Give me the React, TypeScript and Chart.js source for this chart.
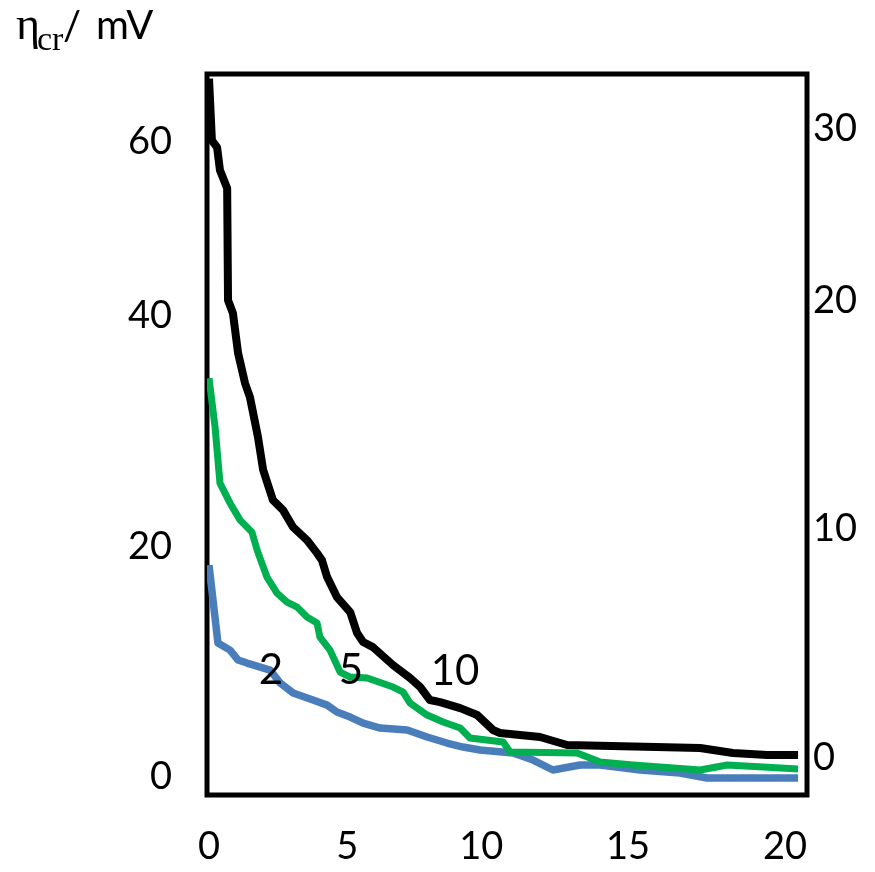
import React, { useEffect, useRef } from 'react';
import { Chart, registerables } from 'chart.js';

Chart.register(...registerables);

// Series (x in the bottom-axis units, y in left-axis units)
const blackX = [0, 0.1, 0.28, 0.38, 0.63, 0.66, 0.83, 1.01, 1.25, 1.42, 1.7, 1.88, 2.22, 2.57, 2.92, 3.4, 3.75, 3.92, 4.1, 4.44, 4.9, 5.14, 5.35, 5.69, 6.39, 6.98, 7.33, 7.67, 8.02, 8.72, 9.31, 9.86, 10.1, 11.49, 12.43, 17.05, 18.19, 19.38, 20.45];
const blackY = [60.6, 55.25, 54.64, 52.65, 51.08, 41.37, 40.24, 36.77, 34.17, 32.96, 29.49, 26.63, 24.02, 23.16, 21.68, 20.56, 19.43, 18.82, 17.35, 15.61, 14.31, 12.49, 11.71, 11.27, 9.71, 8.59, 7.81, 6.68, 6.5, 5.98, 5.38, 4.08, 3.82, 3.47, 2.78, 2.52, 2.08, 1.91, 1.91];

const greenX = [0, 0.21, 0.38, 0.73, 1.08, 1.49, 1.67, 2.01, 2.36, 2.71, 3.06, 3.4, 3.75, 3.85, 4.2, 4.55, 4.9, 5.49, 6.39, 6.74, 6.98, 7.57, 8.13, 8.72, 9.06, 10.21, 10.45, 12.78, 13.58, 14.72, 17.05, 17.99, 19.24, 20.45];
const greenY = [34.61, 30.36, 25.5, 23.76, 22.29, 21.25, 19.69, 17.35, 15.96, 15.18, 14.74, 13.88, 13.36, 12.14, 11.01, 9.11, 8.67, 8.59, 7.81, 7.37, 6.42, 5.38, 4.77, 4.25, 3.38, 3.04, 2.17, 2.08, 1.3, 1.04, 0.61, 1.04, 0.87, 0.69];

const blueX = [0, 0.31, 0.73, 1.01, 1.32, 2.12, 2.47, 2.92, 3.61, 4.1, 4.44, 4.9, 5.35, 5.94, 6.88, 7.57, 8.26, 8.82, 9.41, 10.56, 11.25, 11.94, 12.88, 13.58, 14.97, 16.35, 17.29, 20.45];
const blueY = [18.39, 11.62, 11.01, 10.15, 9.89, 9.28, 8.15, 7.29, 6.68, 6.24, 5.64, 5.2, 4.68, 4.25, 4.08, 3.47, 2.95, 2.6, 2.34, 2.08, 1.47, 0.61, 1.04, 1.04, 0.61, 0.35, -0.09, -0.09];

// Axis ticks as placed in the picture
const xTickValues = [0, 4.8, 9.45, 14.55, 20];
const xTickLabels = ['0', '5', '10', '15', '20'];
const leftTickValues = [0, 20, 40, 55.1];
const leftTickLabels = ['0', '20', '40', '60'];
const rightTickValues = [0, 10, 20, 27.5];
const rightTickLabels = ['0', '10', '20', '30'];

// Curve annotations
const curveLabels = ['2', '5', '10'];
const curveLabelX = [2.15, 4.93, 8.54];
const curveLabelY = [9.28, 9.28, 9.19];

const TICK_FONT = { family: 'Lato', size: 38 };

const toPoints = (xs: number[], ys: number[]) => xs.map((x, i) => ({ x, y: ys[i] }));

export default function App() {
  const canvasRef = useRef<HTMLCanvasElement | null>(null);

  useEffect(() => {
    const canvas = canvasRef.current;
    if (!canvas) return;

    const boxPlugin = {
      id: 'box',
      beforeDatasetsDraw(chart: any) {
        const { ctx, chartArea } = chart;
        ctx.save();
        ctx.strokeStyle = '#000';
        ctx.lineWidth = 5;
        ctx.lineJoin = 'miter';
        ctx.strokeRect(chartArea.left, chartArea.top, chartArea.right - chartArea.left, chartArea.bottom - chartArea.top);
        ctx.restore();
      },
    };

    const labelPlugin = {
      id: 'curveLabels',
      afterDatasetsDraw(chart: any) {
        const { ctx } = chart;
        const xs = chart.scales.x;
        const ys = chart.scales.y;
        ctx.save();
        ctx.fillStyle = '#000';
        ctx.font = '42px Lato';
        ctx.textAlign = 'center';
        ctx.textBaseline = 'middle';
        curveLabels.forEach((t, i) => {
          ctx.fillText(t, xs.getPixelForValue(curveLabelX[i]), ys.getPixelForValue(curveLabelY[i]));
        });
        ctx.restore();
      },
      afterDraw(chart: any) {
        const { ctx } = chart;
        ctx.save();
        ctx.fillStyle = '#000';
        ctx.textAlign = 'left';
        ctx.textBaseline = 'alphabetic';
        ctx.font = '46px "Liberation Serif"';
        ctx.fillText('η', 16, 39);
        ctx.font = '34px "Liberation Serif"';
        ctx.fillText('cr', 37, 50);
        ctx.font = '40px Lato';
        ctx.fillText('/', 63, 40);
        ctx.fillText('mV', 96, 39);
        ctx.restore();
      },
    };

    const chart = new Chart(canvas, {
      type: 'line',
      data: {
        datasets: [
          {
            label: '10',
            data: toPoints(blackX, blackY),
            borderColor: '#000000',
            borderWidth: 8,
            pointRadius: 0,
            tension: 0,
            fill: false,
            borderJoinStyle: 'round',
            yAxisID: 'y',
          },
          {
            label: '5',
            data: toPoints(greenX, greenY),
            borderColor: '#00b050',
            borderWidth: 7,
            pointRadius: 0,
            tension: 0,
            fill: false,
            borderJoinStyle: 'round',
            yAxisID: 'y',
          },
          {
            label: '2',
            data: toPoints(blueX, blueY),
            borderColor: '#4a7ebb',
            borderWidth: 7.5,
            pointRadius: 0,
            tension: 0,
            fill: false,
            borderJoinStyle: 'round',
            yAxisID: 'y',
          },
        ],
      },
      options: {
        responsive: false,
        animation: false,
        devicePixelRatio: 1,
        layout: { padding: { top: 74, left: 0, right: 0, bottom: 0 } },
        plugins: {
          legend: { display: false },
          tooltip: { enabled: false },
          title: { display: false },
        },
        scales: {
          x: {
            type: 'linear',
            min: -0.07,
            max: 20.76,
            afterBuildTicks: (s: any) => {
              s.ticks = xTickValues.map((v) => ({ value: v }));
            },
            afterFit: (s: any) => {
              s.height = 77;
            },
            grid: { display: false, drawTicks: false },
            border: { display: false },
            ticks: {
              autoSkip: false,
              maxRotation: 0,
              padding: 29,
              color: '#000',
              font: TICK_FONT,
              callback: (_v: any, i: number) => xTickLabels[i],
            },
          },
          y: {
            type: 'linear',
            position: 'left',
            min: -1.56,
            max: 61.0,
            afterBuildTicks: (s: any) => {
              s.ticks = leftTickValues.map((v) => ({ value: v }));
            },
            afterFit: (s: any) => {
              s.width = 207;
            },
            grid: { display: false, drawTicks: false },
            border: { display: false },
            ticks: {
              autoSkip: false,
              padding: 35,
              color: '#000',
              font: TICK_FONT,
              callback: (_v: any, i: number) => leftTickLabels[i],
            },
          },
          y2: {
            type: 'linear',
            position: 'right',
            min: -1.62,
            max: 29.9,
            afterBuildTicks: (s: any) => {
              s.ticks = rightTickValues.map((v) => ({ value: v }));
            },
            afterFit: (s: any) => {
              s.width = 68;
            },
            grid: { display: false, drawTicks: false },
            border: { display: false },
            ticks: {
              autoSkip: false,
              padding: 6,
              color: '#000',
              font: TICK_FONT,
              callback: (_v: any, i: number) => rightTickLabels[i],
            },
          },
        },
      },
      plugins: [boxPlugin, labelPlugin],
    } as any);

    return () => chart.destroy();
  }, []);

  return (
    <div style={{ position: 'fixed', left: 0, top: 0, width: 875, height: 872, background: '#fff' }}>
      <canvas ref={canvasRef} width={875} height={872} style={{ display: 'block', width: 875, height: 872 }} />
    </div>
  );
}
